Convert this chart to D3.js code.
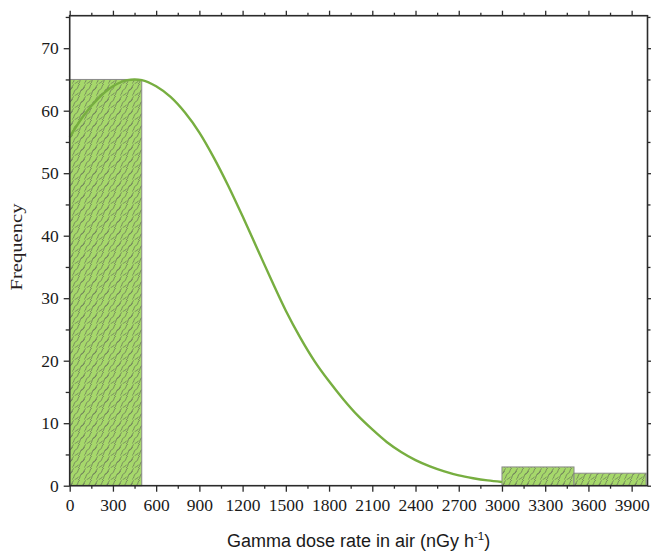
<!DOCTYPE html>
<html>
<head>
<meta charset="utf-8">
<script src="https://cdn.jsdelivr.net/npm/d3@7"></script>
<style>
  html, body { margin: 0; padding: 0; background: #fff; }
  svg { display: block; }
</style>
</head>
<body>
<svg id="chart" width="651" height="553"></svg>
<script>
// Histogram bins (gamma dose rate, nGy/h) and their counts
const binStart = [0, 3000, 3500];
const binEnd   = [500, 3500, 4000];
const counts   = [65, 3, 2];

// Fitted distribution curve, sampled along the dose axis
const fitX = [0, 100, 200, 300, 400, 450, 500, 600, 700, 800, 900, 1000, 1100, 1200, 1300, 1400, 1500, 1600, 1700, 1800, 1900, 2000, 2100, 2200, 2300, 2400, 2500, 2600, 2700, 2800, 2900, 3000];
const fitY = [55.8, 59.3, 62.0, 63.9, 64.9, 65.0, 64.9, 63.9, 62.2, 59.7, 56.5, 52.5, 48.0, 43.1, 38.0, 32.9, 28.0, 23.7, 19.9, 16.7, 13.8, 11.2, 9.0, 7.0, 5.4, 4.1, 3.1, 2.3, 1.65, 1.2, 0.85, 0.6];

// Axis ticks
const xMajor = [0, 300, 600, 900, 1200, 1500, 1800, 2100, 2400, 2700, 3000, 3300, 3600, 3900];
const xMinor = [150, 450, 750, 1050, 1350, 1650, 1950, 2250, 2550, 2850, 3150, 3450, 3750];
const yMajor = [0, 10, 20, 30, 40, 50, 60, 70];
const yMinor = [5, 15, 25, 35, 45, 55, 65, 75];

const svg = d3.select("#chart");
const plotL = 69.7, plotR = 647.5, plotT = 15.7, plotB = 485.7;

const x = d3.scaleLinear().domain([0, 4010]).range([plotL, plotR]);
const y = d3.scaleLinear().domain([0, 75.2]).range([plotB, plotT]);

// Leafy hatch used by the bars
const defs = svg.append("defs");
const pat = defs.append("pattern")
  .attr("id", "leaf").attr("patternUnits", "userSpaceOnUse")
  .attr("width", 12).attr("height", 12);
pat.append("rect").attr("width", 12).attr("height", 12).attr("fill", "#a6d86b");
const squiggles = [
  "M0,11.5 C3,10 1,6.5 4,5.5 C7,4.5 5,1 8,0",
  "M6,12 C9,10.5 7,7 10,6 C13,5 11,1.5 14,0.5",
  "M-6,12 C-3,10.5 -5,7 -2,6 C1,5 -1,1.5 2,0.5",
  "M2.5,12 C4,10.5 5.5,10.5 7,8.5",
  "M8.5,6.5 C10,5 11.5,5 12.5,3",
  "M-3.5,6.5 C-2,5 -0.5,5 0.5,3"
];
pat.selectAll("path").data(squiggles).join("path")
  .attr("d", d => d)
  .attr("fill", "none").attr("stroke", "#646e58").attr("stroke-width", 0.7);

// Bars
svg.append("g").selectAll("rect").data(counts).join("rect")
  .attr("x", (d, i) => x(binStart[i]))
  .attr("width", (d, i) => x(binEnd[i]) - x(binStart[i]))
  .attr("y", d => y(d))
  .attr("height", d => y(0) - y(d))
  .attr("fill", "url(#leaf)")
  .attr("stroke", "#8a8a8a").attr("stroke-width", 1);

// Distribution curve
const line = d3.line()
  .x((d, i) => x(fitX[i]))
  .y(d => y(d))
  .curve(d3.curveMonotoneX);
svg.append("path").datum(fitY)
  .attr("d", line)
  .attr("fill", "none").attr("stroke", "#77ae40").attr("stroke-width", 2.4);

// Axes (mirrored on top and right, ticks outward)
const axisColor = "#2b2b2b";
function styleAxis(g) {
  g.selectAll(".domain").remove();
  g.selectAll("line").attr("stroke", axisColor).attr("stroke-width", 1.3);
  g.selectAll("text").attr("fill", "#1a1a1a")
    .style("font-family", "'Liberation Serif', 'Times New Roman', serif")
    .style("font-size", "17.5px");
}

const gx = svg.append("g").attr("transform", `translate(0,${plotB})`);
gx.append("g").call(d3.axisBottom(x).tickValues(xMajor).tickSize(6).tickPadding(7).tickFormat(d3.format("d")));
gx.append("g").call(d3.axisBottom(x).tickValues(xMinor).tickSize(3).tickFormat(""));
gx.call(styleAxis);

const gxt = svg.append("g").attr("transform", `translate(0,${plotT})`);
gxt.append("g").call(d3.axisTop(x).tickValues(xMajor).tickSize(5).tickFormat(""));
gxt.append("g").call(d3.axisTop(x).tickValues(xMinor).tickSize(3).tickFormat(""));
gxt.call(styleAxis);

const gy = svg.append("g").attr("transform", `translate(${plotL},0)`);
gy.append("g").call(d3.axisLeft(y).tickValues(yMajor).tickSize(6).tickPadding(5));
gy.append("g").call(d3.axisLeft(y).tickValues(yMinor.filter(v => v < 75.2)).tickSize(4).tickFormat(""));
gy.call(styleAxis);

const gyr = svg.append("g").attr("transform", `translate(${plotR},0)`);
gyr.append("g").call(d3.axisRight(y).tickValues(yMajor).tickSize(5).tickFormat(""));
gyr.append("g").call(d3.axisRight(y).tickValues(yMinor.filter(v => v < 75.2)).tickSize(3).tickFormat(""));
gyr.call(styleAxis);

// Frame
svg.append("rect")
  .attr("x", plotL).attr("y", plotT)
  .attr("width", plotR - plotL).attr("height", plotB - plotT)
  .attr("fill", "none").attr("stroke", axisColor).attr("stroke-width", 1.6);

// Axis titles
const xTitle = svg.append("text")
  .attr("x", (plotL + plotR) / 2).attr("y", 546.5)
  .attr("text-anchor", "middle")
  .style("font-family", "'Liberation Sans', Arial, sans-serif")
  .style("font-size", "18px").attr("fill", "#1a1a1a");
xTitle.append("tspan").text("Gamma dose rate in air (nGy h");
xTitle.append("tspan").attr("dy", -7).style("font-size", "11.5px").text("-1");
xTitle.append("tspan").attr("dy", 7).text(")");

svg.append("text")
  .attr("transform", "translate(21.5,247) rotate(-90)")
  .attr("text-anchor", "middle")
  .style("font-family", "'Liberation Serif', 'Times New Roman', serif")
  .style("font-size", "17px").attr("fill", "#2a1f1f")
  .attr("textLength", 87).attr("lengthAdjust", "spacingAndGlyphs")
  .text("Frequency");
</script>
</body>
</html>
